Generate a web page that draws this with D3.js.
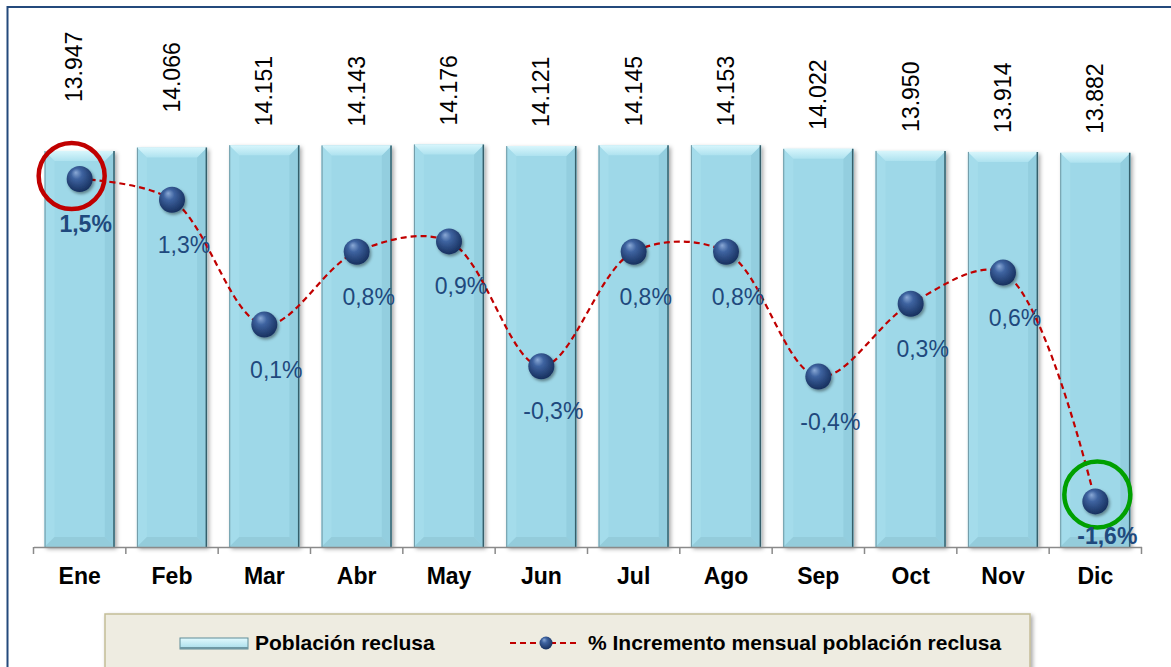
<!DOCTYPE html>
<html>
<head>
<meta charset="utf-8">
<script src="https://cdn.jsdelivr.net/npm/d3@7"></script>
<style>
  html, body { margin: 0; padding: 0; background: #ffffff; }
  svg { display: block; font-family: "Liberation Sans", Arial, sans-serif; }
</style>
</head>
<body>
<svg id="chart" width="1171" height="667"></svg>
<script>
// ---------- data ----------
const months = ["Ene", "Feb", "Mar", "Abr", "May", "Jun", "Jul", "Ago", "Sep", "Oct", "Nov", "Dic"];
const poblacion = [13947, 14066, 14151, 14143, 14176, 14121, 14145, 14153, 14022, 13950, 13914, 13882];
const incremento = [1.5, 1.3, 0.1, 0.8, 0.9, -0.3, 0.8, 0.8, -0.4, 0.3, 0.6, -1.6];
const highlightMonths = ["Ene", "Dic"];
const seriesNames = ["Población reclusa", "% Incremento mensual población reclusa"];

// ---------- setup ----------
const W = 1171, H = 667;
const svg = d3.select("#chart");
const locale = d3.formatLocale({ decimal: ",", thousands: ".", grouping: [3], currency: ["", "€"], minus: "-" });
const fmtInt = locale.format(",d");
const fmtPct = v => locale.format(".1f")(v) + "%";

const x = d3.scaleBand().domain(months).range([33.5, 1141.5]).paddingInner(0.24).paddingOuter(0.12);
const yBar = d3.scaleLinear().domain([0, 16000]).range([547, 92.7]);
const yPct = d3.scaleLinear().domain([-2, 2]).range([543, 127]);

const defs = svg.append("defs");
const sh = defs.append("filter").attr("id", "shadow").attr("x", "-20%").attr("y", "-20%").attr("width", "150%").attr("height", "150%");
sh.append("feDropShadow").attr("dx", 2).attr("dy", 2).attr("stdDeviation", 2).attr("flood-color", "#000").attr("flood-opacity", 0.35);
const sh2 = defs.append("filter").attr("id", "dotshadow").attr("x", "-50%").attr("y", "-50%").attr("width", "200%").attr("height", "200%");
sh2.append("feDropShadow").attr("dx", 1.5).attr("dy", 2).attr("stdDeviation", 1.5).attr("flood-color", "#000").attr("flood-opacity", 0.4);

const topG = defs.append("linearGradient").attr("id", "bevelTop").attr("x1", 0).attr("y1", 0).attr("x2", 0).attr("y2", 1);
topG.append("stop").attr("offset", "0%").attr("stop-color", "#D8F6FC");
topG.append("stop").attr("offset", "100%").attr("stop-color", "#AEE2EF");

const dotG = defs.append("radialGradient").attr("id", "dotGrad").attr("cx", "45%").attr("cy", "40%").attr("r", "60%").attr("fx", "35%").attr("fy", "25%");
dotG.append("stop").attr("offset", "0%").attr("stop-color", "#8AA9D6");
dotG.append("stop").attr("offset", "35%").attr("stop-color", "#3E63A0");
dotG.append("stop").attr("offset", "100%").attr("stop-color", "#17305E");

const legG = defs.append("linearGradient").attr("id", "legBar").attr("x1", 0).attr("y1", 0).attr("x2", 0).attr("y2", 1);
legG.append("stop").attr("offset", "0%").attr("stop-color", "#E2FAFE");
legG.append("stop").attr("offset", "100%").attr("stop-color", "#A6DCEA");

// ---------- frame ----------
svg.append("path").attr("d", `M7.5,${H} V7 H${W}`).attr("fill", "none").attr("stroke", "#244A7C").attr("stroke-width", 2);

// ---------- bars ----------
function drawBevelBar(g, bx, by, bw, bh, b) {
  g.append("rect").attr("x", bx).attr("y", by).attr("width", bw).attr("height", bh)
    .attr("fill", "#9ED8E8").attr("filter", "url(#shadow)");
  g.append("polygon").attr("points", [[bx, by], [bx + b, by + b], [bx + b, by + bh - b], [bx, by + bh]].join(" ")).attr("fill", "#A4DCEB");
  g.append("polygon").attr("points", [[bx + bw, by], [bx + bw - b, by + b], [bx + bw - b, by + bh - b], [bx + bw, by + bh]].join(" ")).attr("fill", "#93CEDF");
  g.append("polygon").attr("points", [[bx, by + bh], [bx + b, by + bh - b], [bx + bw - b, by + bh - b], [bx + bw, by + bh]].join(" ")).attr("fill", "#94CCDB");
  g.append("polygon").attr("points", [[bx, by], [bx + bw, by], [bx + bw - b, by + b], [bx + b, by + b]].join(" ")).attr("fill", "url(#bevelTop)");
  g.append("line").attr("x1", bx + 0.5).attr("x2", bx + 0.5).attr("y1", by).attr("y2", by + bh).attr("stroke", "#6F98A4").attr("stroke-width", 1);
  g.append("line").attr("x1", bx + bw - 0.75).attr("x2", bx + bw - 0.75).attr("y1", by).attr("y2", by + bh).attr("stroke", "#355F6B").attr("stroke-width", 1.5);
}

const barsG = svg.append("g");
months.forEach((m, i) => {
  const bx = x(m), by = yBar(poblacion[i]);
  const bh = yBar(0) - by;
  drawBevelBar(barsG.append("g"), bx, by, x.bandwidth(), bh, 10);
});

// ---------- axis ----------
const axisY = yBar(0);
const axis = svg.append("g").attr("transform", `translate(0,${axisY})`)
  .call(d3.axisBottom(x).tickSize(0).tickSizeOuter(0).tickPadding(21));
axis.select(".domain").attr("stroke", "#8A8A8A").attr("stroke-width", 1.5);
axis.selectAll("text").attr("font-size", 23).attr("font-weight", "bold").attr("fill", "#000")
  .attr("font-family", "'Liberation Sans', Arial, sans-serif");
const x0 = x.range()[0];
d3.range(months.length + 1).forEach(i => {
  const tx = x0 + i * x.step();
  svg.append("line").attr("x1", tx).attr("x2", tx).attr("y1", axisY).attr("y2", axisY + 7)
    .attr("stroke", "#8A8A8A").attr("stroke-width", 1.5);
});

// ---------- bar value labels (rotated) ----------
const labelLift = i => (i === 0 ? 49 : i === 1 ? 35 : 19);
months.forEach((m, i) => {
  const cx = x(m) + x.bandwidth() / 2 - (i === 0 ? 6 : 0);
  const ty = yBar(poblacion[i]) - labelLift(i);
  svg.append("text")
    .attr("transform", `translate(${cx},${ty}) rotate(-90)`)
    .attr("dy", "0.35em")
    .attr("text-anchor", "start")
    .attr("font-size", 23)
    .attr("fill", "#000")
    .text(fmtInt(poblacion[i]));
});

// ---------- line ----------
const pts = months.map((m, i) => [x(m) + x.bandwidth() / 2, yPct(incremento[i])]);
svg.append("path")
  .attr("d", d3.line().curve(d3.curveCatmullRom.alpha(0.5))(pts))
  .attr("fill", "none").attr("stroke", "#C00000").attr("stroke-width", 2.2).attr("stroke-dasharray", "6,4");

// highlight circles
months.forEach((m, i) => {
  if (!highlightMonths.includes(m)) return;
  const col = i === 0 ? "#C00000" : "#00A000";
  svg.append("circle").attr("cx", pts[i][0] + (i === 0 ? -8 : 2)).attr("cy", pts[i][1] - (i === 0 ? 3 : 7)).attr("r", 33)
    .attr("fill", "none").attr("stroke", col).attr("stroke-width", 4.5);
});

// dots
svg.append("g").selectAll("circle").data(pts).join("circle")
  .attr("cx", d => d[0]).attr("cy", d => d[1]).attr("r", 13)
  .attr("fill", "url(#dotGrad)").attr("filter", "url(#dotshadow)");

// dot labels
months.forEach((m, i) => {
  const bold = highlightMonths.includes(m);
  const ly = Math.min(pts[i][1] + 45, axisY - 11);
  svg.append("text")
    .attr("x", pts[i][0] + (i === 0 ? 6 : 12)).attr("y", ly).attr("dy", "0.35em")
    .attr("text-anchor", "middle")
    .attr("font-size", 23)
    .attr("font-weight", bold ? "bold" : "normal")
    .attr("fill", "#1F497D")
    .text(fmtPct(incremento[i]));
});

// ---------- legend ----------
const lg = svg.append("g");
lg.append("rect").attr("x", 105).attr("y", 614).attr("width", 925).attr("height", 80)
  .attr("fill", "#EEECE1").attr("stroke", "#C4BD97").attr("stroke-width", 1.5).attr("filter", "url(#shadow)");
// bar swatch
const sx = 180, sy = 638, sw = 68, shh = 11;
lg.append("rect").attr("x", sx).attr("y", sy).attr("width", sw).attr("height", shh).attr("fill", "url(#legBar)")
  .attr("stroke", "#5E8C98").attr("stroke-width", 1);
lg.append("line").attr("x1", sx).attr("x2", sx + sw).attr("y1", sy + shh - 1).attr("y2", sy + shh - 1).attr("stroke", "#6E98A4").attr("stroke-width", 2);
lg.append("text").attr("x", 255).attr("y", 643).attr("dy", "0.35em").attr("font-size", 21).attr("font-weight", "bold").attr("fill", "#000").text(seriesNames[0]);
// line swatch
lg.append("line").attr("x1", 510).attr("x2", 580).attr("y1", 643).attr("y2", 643)
  .attr("stroke", "#C00000").attr("stroke-width", 2.2).attr("stroke-dasharray", "6,4");
lg.append("circle").attr("cx", 546).attr("cy", 643).attr("r", 6.5).attr("fill", "url(#dotGrad)");
lg.append("text").attr("x", 588).attr("y", 643).attr("dy", "0.35em").attr("font-size", 21).attr("font-weight", "bold").attr("fill", "#000").text(seriesNames[1]);
</script>
</body>
</html>
